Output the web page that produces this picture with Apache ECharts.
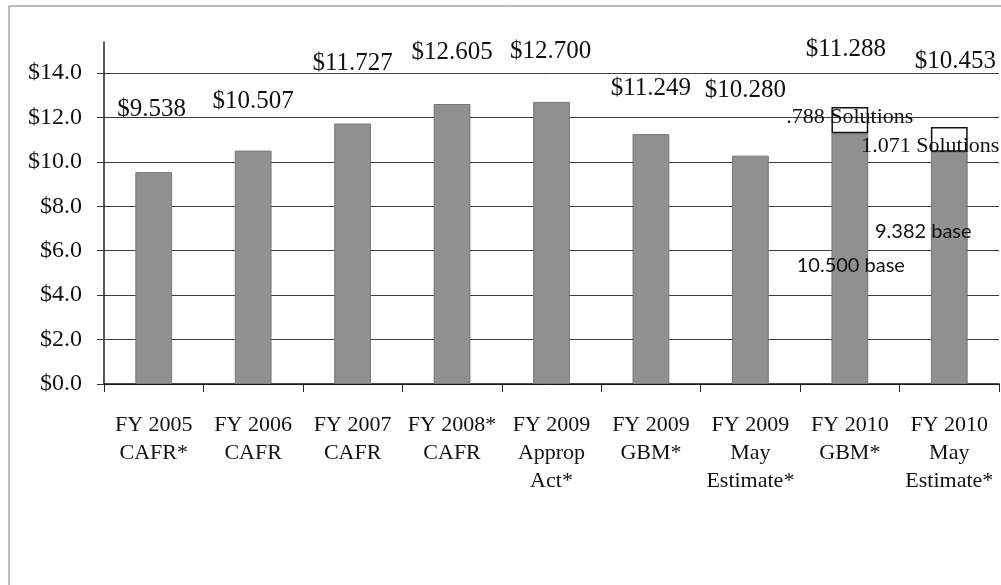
<!DOCTYPE html>
<html><head><meta charset="utf-8">
<script src="https://cdn.jsdelivr.net/npm/echarts@6/dist/echarts.min.js"></script>
<style>html,body{margin:0;padding:0;background:#fff}#c{width:1001px;height:585px}</style>
</head><body><div id="c"></div>
<script>
// ---- data ----
const categories = ['FY 2005\nCAFR*','FY 2006\nCAFR','FY 2007\nCAFR','FY 2008*\nCAFR','FY 2009\nApprop\nAct*','FY 2009\nGBM*','FY 2009\nMay\nEstimate*','FY 2010\nGBM*','FY 2010\nMay\nEstimate*'];
const totals = [9.538, 10.507, 11.727, 12.605, 12.700, 11.249, 10.280, 11.288, 10.453];
const solutionBoxes = [null, null, null, null, null, null, null, 1.18, 1.12];
const yTicks = [0, 2, 4, 6, 8, 10, 12, 14];
const annotationTexts = ['.788 Solutions', '1.071 Solutions', '10.500 base', '9.382 base'];
const annotationCats = [7, 8, 7, 8];
const annotationVals = [12.03, 10.72, 5.32, 6.85];

// ---- styling ----
const labelOffsets = [[-2,-50],[0,-37],[0,-48],[0,-39],[-1,-38],[0,-33],[-5,-53],[-4,-71],[6,-78]];
const annotationStyles = [
  {fontFamily:'Liberation Serif', fontSize:22, offset:[0,0]},
  {fontFamily:'Liberation Serif', fontSize:22, offset:[-19,0]},
  {fontFamily:'Lato', fontSize:20, offset:[1,0]},
  {fontFamily:'Lato', fontSize:20, offset:[-26,0]}
];
const serif = 'Liberation Serif';

const chart = echarts.init(document.getElementById('c'), null, {renderer:'canvas'});
chart.setOption({
  animation:false,
  backgroundColor:'#fff',
  graphic:[{type:'rect', shape:{x:9, y:6, width:1100, height:700}, style:{fill:'none', stroke:'#777', lineWidth:1}, silent:true, z:0}],
  grid:[
    {left:104, right:2, top:42, bottom:201},
    {left:104, right:2, top:73, bottom:201}
  ],
  xAxis:[
    {gridIndex:0, type:'category', data:categories, show:false},
    {gridIndex:1, type:'category', data:categories,
     axisLine:{show:true, lineStyle:{color:'#111', width:1.5}},
     axisTick:{show:true, length:8, lineStyle:{color:'#222'}},
     axisLabel:{interval:0, margin:27, fontFamily:serif, fontSize:22, lineHeight:28, color:'#111'}}
  ],
  yAxis:[
    {gridIndex:0, type:'value', min:0, max:1, axisLine:{show:true, lineStyle:{color:'#222', width:1.5}},
     axisTick:{show:false}, axisLabel:{show:false}, splitLine:{show:false}},
    {gridIndex:1, type:'value', min:yTicks[0], max:yTicks[yTicks.length-1], interval:yTicks[1]-yTicks[0],
     axisLine:{show:false}, axisTick:{show:true, inside:false, length:7, lineStyle:{color:'#333'}},
     axisLabel:{margin:22, fontFamily:serif, fontSize:24, color:'#111', formatter:v=>'$'+v.toFixed(1)},
     splitLine:{show:true, lineStyle:{color:'#3c3c3c', width:1}}}
  ],
  series:[
    {type:'bar', xAxisIndex:1, yAxisIndex:1, stack:'t', barWidth:'37%',
     data: totals.map((v,i)=>({value:v, label:{offset:labelOffsets[i]}})),
     itemStyle:{color:'#909090', borderColor:'#777', borderWidth:1},
     label:{show:true, position:'top', distance:0, fontFamily:serif, fontSize:25, color:'#111',
            formatter:p=>'$'+p.value.toFixed(3)}},
    {type:'bar', xAxisIndex:1, yAxisIndex:1, stack:'t', barWidth:'37%',
     data: solutionBoxes,
     itemStyle:{color:'rgba(0,0,0,0)', borderColor:'#111', borderWidth:1.5},
     markPoint:{symbol:'rect', symbolSize:0, silent:true,
       data: annotationTexts.map((t,i)=>({coord:[categories[annotationCats[i]], annotationVals[i]],
         label:{show:true, position:'inside', formatter:t, color:'#111',
                fontFamily:annotationStyles[i].fontFamily, fontSize:annotationStyles[i].fontSize,
                offset:annotationStyles[i].offset}}))}}
  ]
});
</script></body></html>
